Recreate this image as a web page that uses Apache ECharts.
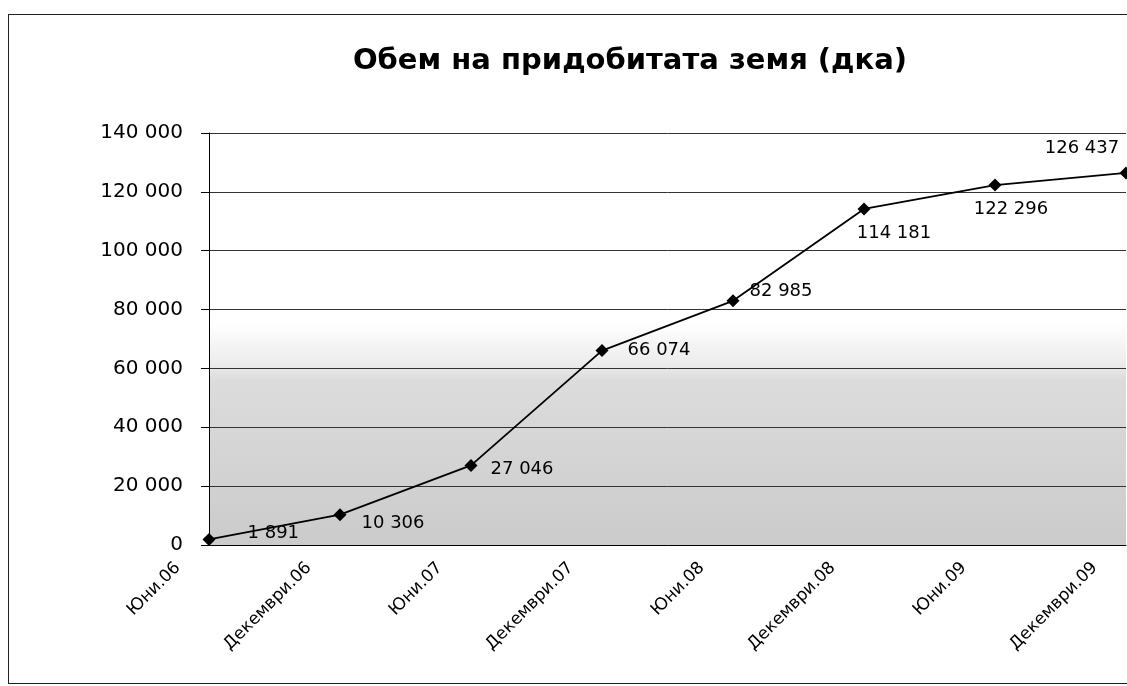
<!DOCTYPE html>
<html>
<head>
<meta charset="utf-8">
<script src="https://cdn.jsdelivr.net/npm/echarts@6/dist/echarts.min.js"></script>
<style>
  html, body { margin: 0; padding: 0; background: #fff; }
  #frame {
    position: absolute; left: 8px; top: 14px; width: 1130px; height: 668px;
    border-left: 1px solid #222; border-top: 1px solid #222; border-bottom: 1px solid #222;
  }
  #chart { position: absolute; left: 0; top: 0; width: 1127px; height: 686px; }
</style>
</head>
<body>
<div id="frame"></div>
<div id="chart"></div>
<script>
// периоди (категории)
const periods = ['Юни.06', 'Декември.06', 'Юни.07', 'Декември.07', 'Юни.08', 'Декември.08', 'Юни.09', 'Декември.09'];
// придобита земя, дка
const landValues = [1891, 10306, 27046, 66074, 82985, 114181, 122296, 126437];
// деления на оста Y
const yTicks = [0, 20000, 40000, 60000, 80000, 100000, 120000, 140000];

// къде стои етикетът на всяка точка
const labelPlace = [
  { position: 'right', offset: [27, -6] },
  { position: 'right', offset: [10, 9] },
  { position: 'right', offset: [8, 4] },
  { position: 'right', offset: [14, 0] },
  { position: 'right', offset: [5, -9] },
  { position: 'bottom', offset: [30, 4] },
  { position: 'bottom', offset: [16, 4] },
  { position: 'top', offset: [-44, -4] }
];

const fmt = v => String(v).replace(/\B(?=(\d{3})+(?!\d))/g, ' ');

const chart = echarts.init(document.getElementById('chart'));

chart.setOption({
  animation: false,
  textStyle: { fontFamily: 'DejaVu Sans' },
  title: {
    text: 'Обем на придобитата земя (дка)',
    left: 625, top: 42, textAlign: 'center',
    textStyle: { fontSize: 29, fontWeight: 'bold', color: '#000', fontFamily: 'DejaVu Sans' }
  },
  grid: {
    left: 209, right: 1, top: 133, bottom: 141,
    show: true, borderWidth: 0,
    backgroundColor: {
      type: 'linear', x: 0, y: 0, x2: 0, y2: 1,
      colorStops: [
        { offset: 0, color: '#ffffff' },
        { offset: 0.46, color: '#ffffff' },
        { offset: 0.56, color: '#ececec' },
        { offset: 0.6, color: '#dcdcdc' },
        { offset: 1, color: '#cbcbcb' }
      ]
    }
  },
  xAxis: {
    type: 'category',
    data: periods,
    boundaryGap: false,
    axisLine: { lineStyle: { color: '#000', width: 1 } },
    axisTick: { show: false },
    axisLabel: { rotate: 45, fontSize: 17, color: '#000', margin: -11, padding: [0, 44, 0, 0] },
    splitLine: { show: false }
  },
  yAxis: {
    type: 'value',
    min: yTicks[0], max: yTicks[yTicks.length - 1], interval: yTicks[1] - yTicks[0],
    axisLine: { show: true, lineStyle: { color: '#000', width: 1 } },
    axisTick: { show: true, length: 8, lineStyle: { color: '#000' } },
    axisLabel: { fontSize: 20, color: '#000', margin: 26, formatter: fmt },
    splitLine: { show: true, lineStyle: { color: '#333', width: 1 } }
  },
  series: [{
    type: 'line',
    data: landValues.map((v, i) => ({ value: v, label: labelPlace[i] })),
    symbol: 'diamond',
    symbolSize: 13,
    itemStyle: { color: '#000' },
    lineStyle: { color: '#000', width: 1.8 },
    label: {
      show: true, fontSize: 18, color: '#000',
      formatter: p => fmt(p.value)
    }
  }]
});
</script>
</body>
</html>
